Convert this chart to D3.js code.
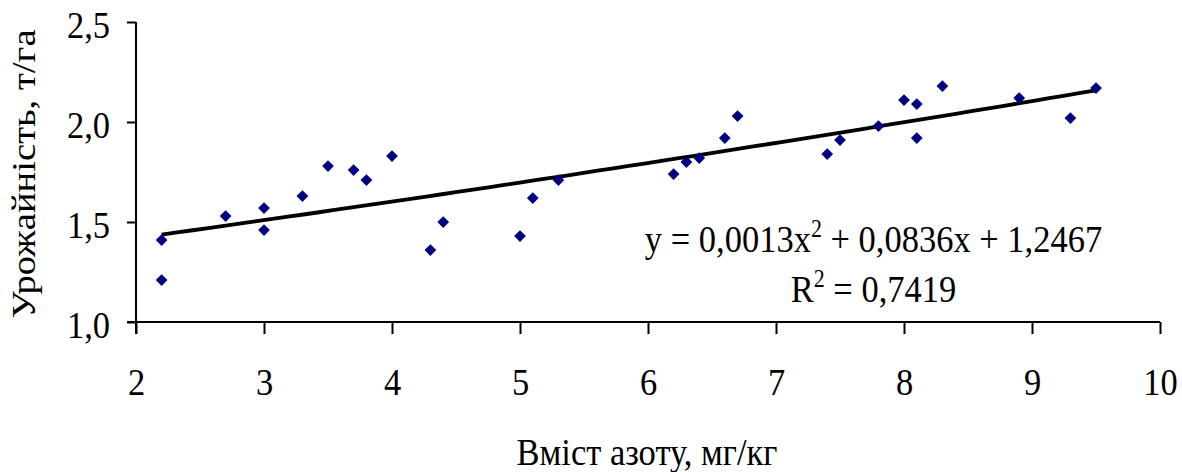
<!DOCTYPE html>
<html>
<head>
<meta charset="utf-8">
<script src="https://cdn.jsdelivr.net/npm/d3@7"></script>
<style>
  html, body { margin: 0; padding: 0; background: #fff; }
  svg { display: block; }
</style>
</head>
<body>
<svg id="chart" width="1182" height="472"></svg>
<script>
// Nitrogen content (mg/kg) and yield (t/ha) for each plot
const nitrogen = [2.2, 2.2, 2.7, 3.0, 3.0, 3.3, 3.5, 3.7, 3.8, 4.0, 4.3, 4.4, 5.0, 5.1, 5.3,
                  6.2, 6.3, 6.4, 6.6, 6.7, 7.4, 7.5, 7.8, 8.0, 8.1, 8.1, 8.3, 8.9, 9.3, 9.5];
const yieldVals = [1.41, 1.21, 1.53, 1.57, 1.46, 1.63, 1.78, 1.76, 1.71, 1.83, 1.36, 1.50, 1.43, 1.62, 1.71,
                   1.74, 1.80, 1.82, 1.92, 2.03, 1.84, 1.91, 1.98, 2.11, 2.09, 1.92, 2.18, 2.12, 2.02, 2.17];

// Polynomial trend coefficients (a·x² + b·x + c) and fit quality
const trendCoef = [0.0013, 0.0836, 1.2467];
const rSquared = "0,7419";

const xTicks = [2, 3, 4, 5, 6, 7, 8, 9, 10];
const yTicks = [1.0, 1.5, 2.0, 2.5];

const xTitle = "Вміст азоту, мг/кг";
const yTitle = "Урожайність, т/га";

const FONT = '"Liberation Serif", "Times New Roman", serif';
const FS = 34.5;        // font size
const SY = 1.12;        // text is drawn slightly taller than wide
const SUP = 22;         // superscript size

const svg = d3.select("#chart");
const x = d3.scaleLinear().domain([2, 10]).range([136, 1160]);
const y = d3.scaleLinear().domain([1, 2.5]).range([322, 22]);

const fmtComma = d => d3.format(".1f")(d).replace(".", ",");
const commaNum = v => String(v).replace(".", ",");

// Places a text element at (px, py) with the vertical stretch applied
const stretched = (sel, px, py, extra = "") =>
  sel.attr("x", 0).attr("y", 0).attr("dy", null)
     .attr("transform", `translate(${px},${py}) scale(1,${SY}) ${extra}`)
     .style("font-family", FONT).style("font-size", FS + "px").attr("fill", "#000");

// Y axis
const yAxis = svg.append("g")
  .attr("transform", `translate(${x(2)},0)`)
  .call(d3.axisLeft(y).tickValues(yTicks).tickSize(9).tickFormat(fmtComma));
yAxis.select(".domain").attr("d", `M0,${y(2.5)}V${y(1) + 12}`);
yAxis.selectAll(".tick text").each(function () { stretched(d3.select(this), -26, 15.5); })
  .attr("text-anchor", "end");

// X axis
const xAxis = svg.append("g")
  .attr("transform", `translate(0,${y(1)})`)
  .call(d3.axisBottom(x).tickValues(xTicks).tickSize(12).tickFormat(d3.format("d")));
xAxis.select(".domain").attr("d", `M${x(2) - 9},0H${x(10)}`);
xAxis.selectAll(".tick text").each(function () { stretched(d3.select(this), 0, 73); })
  .attr("text-anchor", "middle");

svg.selectAll(".domain, .tick line").attr("stroke", "#000").attr("stroke-width", 2);

// Trend line
const poly = v => trendCoef[0] * v * v + trendCoef[1] * v + trendCoef[2];
const xMin = d3.min(nitrogen), xMax = d3.max(nitrogen);
const xs = d3.range(0, 61).map(i => xMin + i * (xMax - xMin) / 60);
svg.append("path")
  .datum(xs)
  .attr("fill", "none")
  .attr("stroke", "#000")
  .attr("stroke-width", 3.8)
  .attr("d", d3.line().x(d => x(d)).y(d => y(poly(d))));

// Data points as diamonds
svg.append("g").selectAll("path")
  .data(d3.zip(nitrogen, yieldVals))
  .join("path")
  .attr("transform", d => `translate(${x(d[0])},${y(d[1])})`)
  .attr("d", d3.symbol(d3.symbolDiamond2, 88)())
  .attr("fill", "#000080");

// Equation and R² labels
const eq = svg.append("text").attr("text-anchor", "middle");
stretched(eq, 873.5, 251.5);
eq.append("tspan").text(`y = ${commaNum(trendCoef[0])}x`);
eq.append("tspan").text("2").attr("dy", -13.4).style("font-size", SUP + "px");
eq.append("tspan").text(` + ${commaNum(trendCoef[1])}x + ${commaNum(trendCoef[2])}`).attr("dy", 13.4);

const r2 = svg.append("text").attr("text-anchor", "middle");
stretched(r2, 873.5, 302.3);
r2.append("tspan").text("R");
r2.append("tspan").text("2").attr("dy", -13.4).style("font-size", SUP + "px");
r2.append("tspan").text(` = ${rSquared}`).attr("dy", 13.4);

// Axis titles
stretched(svg.append("text").attr("text-anchor", "middle").text(xTitle), x(6) - 1, 465);
stretched(svg.append("text").attr("text-anchor", "middle").text(yTitle), 34.5, 174, "rotate(-90)");
</script>
</body>
</html>
